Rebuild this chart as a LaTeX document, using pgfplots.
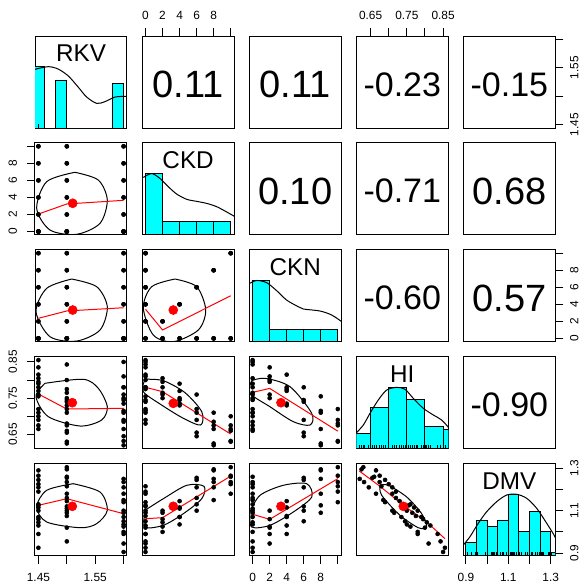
\documentclass[border=0pt]{standalone}
\usepackage{pgfplots}
\pgfplotsset{compat=1.18}
\usepackage{pgfplotstable}
\usepackage{fontspec}
\setmainfont{Liberation Sans}
\definecolor{rcyan}{RGB}{0,255,255}
\definecolor{rred}{RGB}{255,0,0}
\newcommand\tlf{\fontsize{8.9}{10}\selectfont}
\newcommand\corf{\fontsize{28.5}{30}\selectfont}
\newcommand\corn{\fontsize{25.5}{28}\selectfont}
\newcommand\varf{\fontsize{18.2}{20}\selectfont}

\pgfplotstableread{
RKV CKD CKN HI DMV
1.45 0 0 0.855 0.925
1.45 0 2 0.835 0.990
1.45 0 4 0.815 1.030
1.45 0 6 0.780 1.100
1.45 0 8 0.755 1.125
1.45 0 10 0.720 1.190
1.45 2 0 0.805 1.045
1.45 4 0 0.790 1.070
1.45 6 0 0.760 1.130
1.45 8 0 0.710 1.210
1.45 10 0 0.700 1.225
1.45 2 2 0.795 1.060
1.45 4 4 0.770 1.115
1.45 6 6 0.690 1.245
1.45 8 8 0.665 1.290
1.45 10 10 0.675 1.265
1.50 0 0 0.843 0.955
1.50 0 2 0.800 1.020
1.50 0 4 0.775 1.075
1.50 0 6 0.740 1.120
1.50 0 8 0.710 1.180
1.50 0 10 0.680 1.215
1.50 2 0 0.765 1.090
1.50 4 0 0.745 1.110
1.50 6 0 0.720 1.160
1.50 8 0 0.675 1.235
1.50 10 0 0.660 1.260
1.50 2 2 0.750 1.100
1.50 4 4 0.730 1.145
1.50 6 6 0.655 1.255
1.50 8 8 0.625 1.295
1.50 10 10 0.630 1.305
1.60 0 0 0.850 0.905
1.60 0 2 0.810 0.945
1.60 0 4 0.780 0.990
1.60 0 6 0.745 1.050
1.60 0 8 0.715 1.090
1.60 0 10 0.690 1.140
1.60 2 0 0.780 1.000
1.60 4 0 0.750 1.035
1.60 6 0 0.710 1.100
1.60 8 0 0.685 1.150
1.60 10 0 0.665 1.180
1.60 2 2 0.760 1.025
1.60 4 4 0.735 1.070
1.60 6 6 0.645 1.210
1.60 8 8 0.620 1.250
1.60 10 10 0.632 1.235
}\data

\pgfplotsset{
 panel/.style={scale only axis, width=69pt, height=69pt, anchor=north west,
   axis line style={line width=0.75pt}, xtick=\empty, ytick=\empty,
   tick align=outside, major tick length=6pt,
   every tick/.style={black, line width=0.75pt},
   tick label style={font=\tlf}},
 xRKV/.style={xmin=1.444,xmax=1.606}, yRKV/.style={ymin=1.444,ymax=1.606},
 xCKD/.style={xmin=-0.4,xmax=10.4}, yCKD/.style={ymin=-0.4,ymax=10.4},
 xHI/.style={xmin=0.6106,xmax=0.8644}, yHI/.style={ymin=0.6106,ymax=0.8644},
 xDMV/.style={xmin=0.888,xmax=1.322}, yDMV/.style={ymin=0.888,ymax=1.322},
 ydens/.style={ymin=0,ymax=1.5},
 pts/.style={only marks, mark=*, mark size=1.5pt, black},
 ell/.style={black, line width=0.75pt, smooth, no marks},
 lo/.style={rred, line width=0.75pt, no marks},
 mn/.style={only marks, mark=*, mark size=3.4pt, rred},
 hist/.style={ybar interval, fill=rcyan, draw=black, line width=0.75pt},
 dens/.style={black, smooth, line width=0.75pt, no marks},
 rug/.style={ycomb, black, line width=0.5pt, no marks},
 leftticks/.style={ytick pos=left, yticklabel pos=left, yticklabel shift=4pt, yticklabel style={rotate=90, anchor=south}},
 rightticks/.style={ytick pos=right, yticklabel pos=right, yticklabel shift=1.5pt, yticklabel style={rotate=90, anchor=north}},
 topticks/.style={xtick pos=right, xticklabel pos=right, xticklabel shift=2.5pt},
 bottomticks/.style={xtick pos=left, xticklabel pos=left, xticklabel shift=4pt},
 cktx/.style={xtick={0,2,4,6,8,10}, xticklabels={0,2,4,6,8,{}}},
 ckty/.style={ytick={0,2,4,6,8,10}, yticklabels={0,2,4,6,8,{}}},
}

\begin{document}
\begin{tikzpicture}
\useasboundingbox (0,0) rectangle (438.75pt,-440.25pt);

% ---------- row 1 ----------
\begin{axis}[panel, at={(26.25pt,-27pt)}, xRKV, ydens]
\addplot[hist] coordinates {(1.44,1.0) (1.46,0) (1.48,0.78) (1.50,0) (1.58,0.72) (1.60,0)};
\addplot[dens] coordinates {(1.444,0.957) (1.4675,1.0) (1.485,0.96) (1.5027,0.848) (1.520,0.668) (1.535,0.505) (1.5526,0.402) (1.567,0.429) (1.585,0.505) (1.6055,0.516)};
\addplot[rug] table[x=RKV, y expr=0.06] {\data};
\node at (rel axis cs:0.5,0.81) {\varf RKV};
\end{axis}

\begin{axis}[panel, at={(106.575pt,-27pt)}, xCKD, yRKV, topticks, cktx]
\node at (rel axis cs:0.5,0.475) {\corf 0.11};
\end{axis}
\begin{axis}[panel, at={(186.9pt,-27pt)}, xCKD, yRKV]
\node at (rel axis cs:0.5,0.475) {\corf 0.11};
\end{axis}
\begin{axis}[panel, at={(267.225pt,-27pt)}, xHI, yRKV, topticks,
  xtick={0.65,0.70,0.75,0.80,0.85}, xticklabels={0.65,{},0.75,{},0.85}]
\node at (rel axis cs:0.5,0.475) {\corn -0.23};
\end{axis}
\begin{axis}[panel, at={(347.55pt,-27pt)}, xDMV, yRKV, rightticks,
  ytick={1.45,1.50,1.55,1.60}, yticklabels={1.45,{},1.55,{}}]
\node at (rel axis cs:0.5,0.475) {\corn -0.15};
\end{axis}

% ---------- row 2 ----------
\begin{axis}[panel, at={(26.25pt,-107.175pt)}, xRKV, yCKD, leftticks, ckty]
\addplot[pts] table[x=RKV, y=CKD] {\data};
\addplot[ell] coordinates {(1.5144,6.95) (1.5555,6.04) (1.5713,3.70) (1.5585,0.96) (1.5174,-0.33) (1.4704,0.175) (1.447,2.72) (1.4646,5.85) (1.5144,6.95)};
\addplot[lo] coordinates {(1.45,2.05) (1.50,3.23) (1.60,3.66)};
\addplot[mn] coordinates {(1.5104,3.31)};
\end{axis}

\begin{axis}[panel, at={(106.575pt,-107.175pt)}, xCKD, ydens]
\addplot[hist] coordinates {(0,1.0) (2,0.215) (4,0.215) (6,0.215) (8,0.215) (10,0)};
\addplot[dens] coordinates {(-0.26,0.937) (0.73,1.0) (1.70,0.92) (2.68,0.785) (3.66,0.666) (4.84,0.58) (6.01,0.547) (7.18,0.514) (8.36,0.46) (9.53,0.374) (10.47,0.30)};
\addplot[rug] table[x=CKD, y expr=0.06] {\data};
\node at (rel axis cs:0.5,0.81) {\varf CKD};
\end{axis}

\begin{axis}[panel, at={(186.9pt,-107.175pt)}, xCKD, yCKD]
\node at (rel axis cs:0.5,0.475) {\corf 0.10};
\end{axis}
\begin{axis}[panel, at={(267.225pt,-107.175pt)}, xHI, yCKD]
\node at (rel axis cs:0.5,0.475) {\corn -0.71};
\end{axis}
\begin{axis}[panel, at={(347.55pt,-107.175pt)}, xDMV, yCKD]
\node at (rel axis cs:0.5,0.475) {\corf 0.68};
\end{axis}

% ---------- row 3 ----------
\begin{axis}[panel, at={(26.25pt,-187.35pt)}, xRKV, yCKD]
\addplot[pts] table[x=RKV, y=CKN] {\data};
\addplot[ell] coordinates {(1.5086,6.97) (1.5526,6.07) (1.5713,3.72) (1.5585,0.985) (1.5174,-0.31) (1.4704,0.2) (1.4458,3.13) (1.4646,5.88) (1.5086,6.97)};
\addplot[lo] coordinates {(1.45,2.36) (1.50,3.22) (1.60,3.60)};
\addplot[mn] coordinates {(1.5104,3.33)};
\end{axis}

\begin{axis}[panel, at={(106.575pt,-187.35pt)}, xCKD, yCKD]
\addplot[pts] table[x=CKD, y=CKN] {\data};
\addplot[ell] coordinates {(3.46,6.97) (6.01,6.07) (7.07,3.33) (6.2,0.985) (3.26,-0.39) (0.91,0.4) (-0.26,3.6) (0.73,6.07) (3.46,6.97)};
\addplot[lo] coordinates {(0,3.42) (2,0.99) (10,5.0)};
\addplot[mn] coordinates {(3.26,3.33)};
\end{axis}

\begin{axis}[panel, at={(186.9pt,-187.35pt)}, xCKD, ydens]
\addplot[hist] coordinates {(0,1.0) (2,0.205) (4,0.205) (6,0.205) (8,0.205) (10,0)};
\addplot[dens] coordinates {(-0.31,0.954) (0.48,1.0) (1.65,0.964) (2.83,0.833) (4.0,0.68) (5.36,0.572) (5.95,0.535) (7.91,0.502) (9.28,0.437) (10.46,0.328)};
\addplot[rug] table[x=CKN, y expr=0.06] {\data};
\node at (rel axis cs:0.5,0.81) {\varf CKN};
\end{axis}

\begin{axis}[panel, at={(267.225pt,-187.35pt)}, xHI, yCKD]
\node at (rel axis cs:0.5,0.475) {\corn -0.60};
\end{axis}
\begin{axis}[panel, at={(347.55pt,-187.35pt)}, xDMV, yCKD, rightticks, ckty]
\node at (rel axis cs:0.5,0.475) {\corf 0.57};
\end{axis}

% ---------- row 4 ----------
\begin{axis}[panel, at={(26.25pt,-267.525pt)}, xRKV, yHI, leftticks,
  ytick={0.65,0.70,0.75,0.80,0.85}, yticklabels={0.65,{},0.75,{},0.85}]
\addplot[pts] table[x=RKV, y=HI] {\data};
\addplot[ell] coordinates {(1.4616,0.791) (1.529,0.8021) (1.5555,0.7772) (1.5713,0.7265) (1.5614,0.6898) (1.5235,0.6732) (1.4675,0.6989) (1.4458,0.754) (1.4616,0.791)};
\addplot[lo] coordinates {(1.45,0.7615) (1.50,0.7201) (1.60,0.722)};
\addplot[mn] coordinates {(1.5097,0.7375)};
\end{axis}

\begin{axis}[panel, at={(106.575pt,-267.525pt)}, xCKD, yHI]
\addplot[pts] table[x=CKD, y=HI] {\data};
\addplot[ell] coordinates {(-0.06,0.8021) (2.09,0.7982) (4.64,0.7651) (6.6,0.7127) (6.48,0.676) (4.44,0.6945) (1.90,0.731) (-0.26,0.7679) (-0.06,0.8021)};
\addplot[lo] coordinates {(0,0.780) (2,0.768) (10,0.651)};
\addplot[mn] coordinates {(3.26,0.7358)};
\end{axis}

\begin{axis}[panel, at={(186.9pt,-267.525pt)}, xCKD, yHI]
\addplot[pts] table[x=CKN, y=HI] {\data};
\addplot[ell] coordinates {(-0.11,0.7982) (1.45,0.8048) (4.39,0.7817) (6.94,0.7083) (6.74,0.676) (4.78,0.6851) (2.03,0.7265) (-0.31,0.7634) (-0.11,0.7982)};
\addplot[lo] coordinates {(0,0.766) (2,0.777) (10,0.659)};
\addplot[mn] coordinates {(3.33,0.7375)};
\end{axis}

\begin{axis}[panel, at={(267.225pt,-267.525pt)}, xHI, ydens]
\addplot[hist] coordinates {(0.60,0.25) (0.65,0.675) (0.70,1.0) (0.75,0.805) (0.80,0.365) (0.85,0.305) (0.90,0)};
\addplot[dens] coordinates {(0.611,0.261) (0.630,0.386) (0.6484,0.577) (0.6713,0.794) (0.6945,0.957) (0.722,1.0) (0.745,0.968) (0.768,0.82) (0.7954,0.659) (0.823,0.55) (0.846,0.468) (0.867,0.333)};
\addplot[rug] table[x=HI, y expr=0.06] {\data};
\node at (rel axis cs:0.5,0.81) {\varf HI};
\end{axis}

\begin{axis}[panel, at={(347.55pt,-267.525pt)}, xDMV, yHI]
\node at (rel axis cs:0.5,0.475) {\corn -0.90};
\end{axis}

% ---------- row 5 ----------
\begin{axis}[panel, at={(26.25pt,-347.7pt)}, xRKV, yDMV, bottomticks,
  xtick={1.45,1.50,1.55,1.60}, xticklabels={1.45,{},1.55,{}}]
\addplot[pts] table[x=RKV, y=DMV] {\data};
\addplot[ell] coordinates {(1.5114,1.2272) (1.5585,1.188) (1.5713,1.1017) (1.5526,1.0385) (1.5235,1.0196) (1.4646,1.0465) (1.447,1.1173) (1.4646,1.196) (1.5114,1.2272)};
\addplot[lo] coordinates {(1.45,1.1253) (1.50,1.1564) (1.60,1.0857)};
\addplot[mn] coordinates {(1.5097,1.1206)};
\end{axis}

\begin{axis}[panel, at={(106.575pt,-347.7pt)}, xCKD, yDMV]
\addplot[pts] table[x=CKD, y=DMV] {\data};
\addplot[ell] coordinates {(-0.06,1.1017) (2.09,1.1564) (4.84,1.2196) (6.87,1.2149) (6.6,1.1564) (4.44,1.0857) (2.09,1.0309) (-0.06,1.0229) (-0.06,1.1017)};
\addplot[lo] coordinates {(0,1.062) (2,1.067) (10,1.263)};
\addplot[mn] coordinates {(3.26,1.1206)};
\end{axis}

\begin{axis}[panel, at={(186.9pt,-347.7pt)}, xCKD, yDMV, bottomticks, cktx]
\addplot[pts] table[x=CKN, y=DMV] {\data};
\addplot[ell] coordinates {(-0.31,1.0937) (0.87,1.1725) (3.60,1.2196) (6.35,1.2272) (6.94,1.1644) (4.78,1.0937) (2.04,1.0309) (-0.11,1.0229) (-0.31,1.0937)};
\addplot[lo] coordinates {(0,1.083) (2,1.059) (10,1.251)};
\addplot[mn] coordinates {(3.33,1.1206)};
\end{axis}

\begin{axis}[panel, at={(267.225pt,-347.7pt)}, xHI, yDMV]
\addplot[pts] table[x=HI, y=DMV] {\data};
\addplot[ell] coordinates {(0.676,1.2196) (0.6989,1.2196) (0.7497,1.1644) (0.7910,1.0857) (0.8048,1.0229) (0.7816,1.0196) (0.7312,1.0781) (0.6807,1.1724) (0.676,1.2196)};
\addplot[lo] coordinates {(0.6189,1.287) (0.6760,1.2149) (0.7403,1.1253) (0.8048,1.0465) (0.8553,0.9677)};
\addplot[mn] coordinates {(0.7403,1.1206)};
\end{axis}

\begin{axis}[panel, at={(347.55pt,-347.7pt)}, xDMV, ydens, bottomticks,
  xtick={0.9,1.0,1.1,1.2,1.3}, xticklabels={0.9,{},1.1,{},1.3}]
\addplot[hist] coordinates {(0.90,0.22) (0.95,0.58) (1.00,0.47) (1.05,0.57) (1.10,1.0) (1.15,0.40) (1.20,0.72) (1.25,0.40) (1.30,0.055) (1.35,0)};
\addplot[dens] coordinates {(0.8875,0.173) (0.919,0.308) (0.9583,0.527) (0.998,0.716) (1.045,0.879) (1.0923,0.988) (1.1394,1.0) (1.1866,0.934) (1.2338,0.771) (1.281,0.527) (1.3154,0.336) (1.331,0.227)};
\addplot[rug] table[x=DMV, y expr=0.06] {\data};
\node at (rel axis cs:0.5,0.81) {\varf DMV};
\end{axis}
\begin{axis}[panel, at={(347.55pt,-347.7pt)}, xDMV, yDMV, rightticks,
  axis line style={draw=none},
  ytick={0.9,1.0,1.1,1.2,1.3}, yticklabels={0.9,{},1.1,{},1.3}]
\end{axis}

\end{tikzpicture}
\end{document}
